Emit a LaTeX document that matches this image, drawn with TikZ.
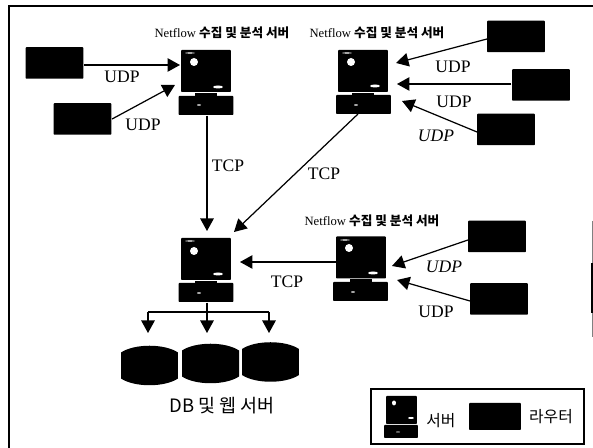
\documentclass[tikz,border=0pt]{standalone}
\usepackage{fontspec}
\setmainfont{Liberation Serif}
\newfontfamily\krfont{Noto Sans CJK KR}
\usetikzlibrary{arrows.meta}

\begin{document}
\begin{tikzpicture}[x=0.02cm, y=-0.02cm, line width=0.7pt, >={Triangle[length=2.5mm,width=2.7mm]},
	every node/.style={font=\small},
	mon/.style={fill=black, rounded corners=0.5pt, inner sep=0pt, minimum width=1cm, minimum height=0.84cm},
	sbase/.style={fill=black, rounded corners=0.5pt, inner sep=0pt, minimum width=1.1cm, minimum height=0.38cm},
	rout/.style={fill=black, rounded corners=0.5pt, inner sep=0pt, minimum width=1.16cm, minimum height=0.63cm},
	disk/.pic={\fill (-28.5,-13) .. controls (-15,-22) and (15,-22) .. (28.5,-13) -- (28.5,13) .. controls (15,22) and (-15,22) .. (-28.5,13) -- cycle;},
	title/.style={font=\fontsize{7.2}{8}\selectfont},
	krlabel/.style={font=\krfont\fontsize{9}{11}\selectfont},
	proto/.style={font=\fontsize{10}{12}\selectfont}]
	\useasboundingbox (0,0) rectangle (593,448);
	\draw (593,6) -- (9,6) -- (9,448);
	\draw[line width=0.3pt, black!50] (592,221) -- (592,337);
	\draw[line width=0.7pt] (592,263) -- (592,313);
	% servers
	\node[mon] (monA) at (206,71) {};
	\node[sbase] (baseA) at (206,105.5) {};
	\node[mon] (monB) at (363,71) {};
	\node[sbase] (baseB) at (363.5,104.5) {};
	\node[mon] (monC) at (206,259) {};
	\node[sbase] (baseC) at (206,292.5) {};
	\node[mon] (monD) at (361,257.5) {};
	\node[sbase] (baseD) at (360.5,291.5) {};
	\fill (monA.south) ++(-11,0) rectangle ++(22,5);
	\fill (monB.south) ++(-11,0) rectangle ++(22,5);
	\fill (monC.south) ++(-11,0) rectangle ++(22,5);
	\fill (monD.south) ++(-11,0) rectangle ++(22,5);
	\fill[white] (194,62) ellipse (4 and 4) (218,87) ellipse (5 and 1.5) (199,105) ellipse (2 and 0.7) (190,53) ellipse (5 and 0.6);
	\fill[white] (351,62) ellipse (4 and 4) (375,86) ellipse (5 and 1.5) (356,105) ellipse (2 and 0.7) (347,53) ellipse (5 and 0.6);
	\fill[white] (194,251) ellipse (4 and 4) (218,274) ellipse (5 and 1.5) (199,293) ellipse (2 and 0.7) (190,241) ellipse (5 and 0.6);
	\fill[white] (349,248) ellipse (4 and 4) (373,273) ellipse (5 and 1.5) (353,292) ellipse (2 and 0.7) (345,240) ellipse (5 and 0.6);
	% routers
	\node[rout] (rtA) at (54.5,63) {};
	\node[rout] (rtB) at (82.5,119) {};
	\node[rout] (rtC) at (516,36.5) {};
	\node[rout] (rtD) at (541,85) {};
	\node[rout] (rtE) at (506,129.5) {};
	\node[rout] (rtF) at (497,236.5) {};
	\node[rout] (rtG) at (499,299) {};
	% disks
	\pic (dbA) at (149.5,365.5) {disk};
	\pic (dbB) at (210.5,363.5) {disk};
	\pic (dbC) at (270.5,362) {disk};
	% arrow tips
	\coordinate (tipA) at (180,65);
	\coordinate (tipB) at (175,85);
	\coordinate (tipC) at (207,231);
	\coordinate (tipD) at (234,232);
	\coordinate (tipE) at (396,63);
	\coordinate (tipF) at (397,84);
	\coordinate (tipG) at (402,101);
	\coordinate (tipH) at (240,262);
	\coordinate (tipI) at (392,266);
	\coordinate (tipJ) at (397,280);
	\coordinate (outB) at (358,114);
	\coordinate (outE) at (487,39);
	\coordinate (outG) at (477,132);
	\coordinate (outI) at (468,240);
	\coordinate (outJ) at (470,301);
	\coordinate (outH) at (336,262);
	\draw[->] (rtA.east |- tipA) -- (tipA);
	\draw[->] (rtB.east) -- (tipB);
	\draw[->] (baseA.south -| tipC) -- (tipC);
	\draw[->] (outB) -- (tipD);
	\draw[->] (outE) -- (tipE);
	\draw[->] (rtD.west |- tipF) -- (tipF);
	\draw[->] (outG) -- (tipG);
	\draw[->] (outH) -- (tipH);
	\draw[->] (outI) -- (tipI);
	\draw[->] (outJ) -- (tipJ);
	% disk branches
	\coordinate (busL) at (148,312);
	\coordinate (busM) at (207,312);
	\coordinate (busR) at (269,312);
	\draw[line width=1pt] (busL) -- (busR);
	\draw[->] (busL) -- (148,333);
	\draw[->] (baseC.south -| busM) -- (207,333);
	\draw[->] (busR) -- (269,333);
	% labels
	\node[title] (nameA) at (222,33) {Netflow {\krfont\bfseries 수집 및 분석 서버}};
	\node[title] (nameB) at (377,33) {Netflow {\krfont\bfseries 수집 및 분석 서버}};
	\node[title] (nameC) at (372,221) {Netflow {\krfont\bfseries 수집 및 분석 서버}};
	\node[proto] (lbA) at (122,77) {UDP};
	\node[proto] (lbB) at (143,125) {UDP};
	\node[proto] (lbC) at (228,166) {TCP};
	\node[proto] (lbD) at (324,174) {TCP};
	\node[proto] (lbE) at (453,67) {UDP};
	\node[proto] (lbF) at (454,102) {UDP};
	\node[proto, font=\fontsize{10}{12}\selectfont\itshape] (lbG) at (436,136) {UDP};
	\node[proto] (lbH) at (287,282) {TCP};
	\node[proto, font=\fontsize{10}{12}\selectfont\itshape] (lbI) at (444,267) {UDP};
	\node[proto] (lbJ) at (436,312) {UDP};
	\node[krlabel, font=\krfont\fontsize{10.5}{12}\selectfont] (dbname) at (222,406) {DB 및 웹 서버};
	% legend
	\node[draw, minimum width=4.26cm, minimum height=1.1cm, inner sep=0pt] (legend) at (477.5,416.5) {};
	\node[mon, minimum width=0.62cm, minimum height=0.56cm] (monK) at (401.5,410) {};
	\node[sbase, minimum width=0.68cm, minimum height=0.26cm] (baseK) at (401,431.5) {};
	\fill[white] (394,403) ellipse (2 and 2.5) (411,418) ellipse (3 and 1) (398,432) ellipse (2 and 0.5);
	\node[rout, minimum width=1.04cm, minimum height=0.54cm] (rtK) at (495,416.5) {};
	\node[krlabel] (keyA) at (441,421) {서버};
	\node[krlabel] (keyB) at (551,417) {라우터};
\end{tikzpicture}
\end{document}
